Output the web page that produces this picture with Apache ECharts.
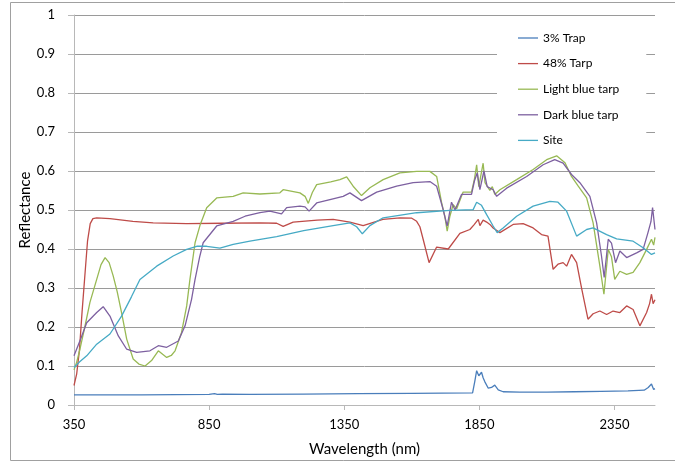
<!DOCTYPE html>
<html>
<head>
<meta charset="utf-8">
<script src="https://cdn.jsdelivr.net/npm/echarts@6/dist/echarts.min.js"></script>
<style>
  html, body { margin: 0; padding: 0; background: #fff; }
  #chart { width: 675px; height: 462px; }
</style>
</head>
<body>
<div id="chart"></div>
<script>
// series names and tick labels
const seriesNames = ["3% Trap", "48% Tarp", "Light blue tarp", "Dark blue tarp", "Site"];
const xTicks = [350, 850, 1350, 1850, 2350];

// [wavelength nm, reflectance]
const trap3 = [
  [350, 0.026], [600, 0.026], [850, 0.027], [870, 0.029], [880, 0.027], [900, 0.028],
  [1000, 0.027], [1200, 0.028], [1400, 0.029], [1600, 0.03], [1825, 0.031], [1833, 0.06],
  [1840, 0.088], [1848, 0.075], [1858, 0.084], [1864, 0.07], [1870, 0.06], [1883, 0.043],
  [1895, 0.045], [1907, 0.051], [1920, 0.039], [1938, 0.034], [2000, 0.033], [2100, 0.033],
  [2200, 0.034], [2300, 0.035], [2400, 0.036], [2460, 0.038], [2475, 0.045], [2487, 0.054],
  [2495, 0.04], [2500, 0.042]
];
const tarp48 = [
  [350, 0.05], [360, 0.08], [370, 0.14], [380, 0.24], [390, 0.33], [400, 0.42], [410, 0.465],
  [420, 0.478], [434, 0.48], [483, 0.478], [568, 0.471], [643, 0.467], [767, 0.465], [900, 0.466],
  [1038, 0.467], [1100, 0.466], [1124, 0.458], [1161, 0.469], [1250, 0.474], [1309, 0.476],
  [1371, 0.469], [1420, 0.46], [1493, 0.476], [1556, 0.48], [1600, 0.479], [1618, 0.471],
  [1630, 0.457], [1642, 0.425], [1664, 0.365], [1692, 0.405], [1735, 0.40], [1778, 0.44],
  [1815, 0.45], [1830, 0.462], [1846, 0.476], [1852, 0.46], [1858, 0.467], [1864, 0.474],
  [1877, 0.469], [1889, 0.463], [1901, 0.454], [1926, 0.442], [1975, 0.463], [2012, 0.465],
  [2049, 0.454], [2080, 0.437], [2104, 0.433], [2123, 0.348], [2141, 0.361], [2160, 0.365],
  [2173, 0.356], [2191, 0.386], [2210, 0.365], [2229, 0.297], [2252, 0.22], [2271, 0.234],
  [2296, 0.241], [2321, 0.232], [2345, 0.241], [2370, 0.237], [2395, 0.254], [2419, 0.245],
  [2444, 0.203], [2469, 0.237], [2480, 0.26], [2487, 0.284], [2493, 0.26], [2500, 0.27]
];
const lightBlue = [
  [350, 0.09], [360, 0.11], [372, 0.143], [390, 0.2], [409, 0.263], [434, 0.322], [450, 0.36],
  [465, 0.378], [480, 0.365], [495, 0.331], [510, 0.29], [526, 0.237], [545, 0.169], [569, 0.118],
  [590, 0.105], [613, 0.10], [637, 0.114], [662, 0.139], [678, 0.13], [693, 0.122], [710, 0.127],
  [724, 0.139], [748, 0.186], [767, 0.254], [779, 0.322], [798, 0.416], [816, 0.46], [841, 0.506],
  [878, 0.531], [939, 0.535], [976, 0.544], [1038, 0.541], [1112, 0.544], [1124, 0.552],
  [1186, 0.544], [1205, 0.535], [1217, 0.517], [1232, 0.545], [1248, 0.565], [1300, 0.572],
  [1334, 0.578], [1359, 0.585], [1383, 0.561], [1414, 0.537], [1445, 0.557], [1494, 0.578],
  [1556, 0.595], [1618, 0.599], [1667, 0.599], [1692, 0.586], [1710, 0.52], [1722, 0.484],
  [1731, 0.446], [1741, 0.484], [1753, 0.514], [1766, 0.503], [1790, 0.546], [1821, 0.546],
  [1832, 0.58], [1840, 0.616], [1848, 0.56], [1856, 0.59], [1864, 0.62], [1871, 0.57],
  [1877, 0.565], [1889, 0.55], [1898, 0.56], [1907, 0.54], [1926, 0.552], [1988, 0.578],
  [2049, 0.604], [2099, 0.629], [2136, 0.639], [2167, 0.621], [2191, 0.586], [2216, 0.561],
  [2247, 0.531], [2271, 0.467], [2296, 0.356], [2311, 0.284], [2327, 0.399], [2339, 0.38],
  [2351, 0.322], [2370, 0.343], [2395, 0.335], [2419, 0.34], [2444, 0.365], [2469, 0.399],
  [2487, 0.425], [2495, 0.41], [2500, 0.43]
];
const darkBlue = [
  [350, 0.126], [375, 0.17], [397, 0.211], [434, 0.237], [458, 0.252], [483, 0.228], [514, 0.177],
  [545, 0.143], [582, 0.135], [631, 0.139], [662, 0.152], [693, 0.148], [736, 0.164], [761, 0.203],
  [785, 0.271], [798, 0.322], [815, 0.38], [828, 0.416], [878, 0.459], [939, 0.471], [983, 0.484],
  [1038, 0.493], [1075, 0.497], [1118, 0.49], [1137, 0.506], [1186, 0.51], [1205, 0.508],
  [1220, 0.497], [1248, 0.518], [1346, 0.535], [1371, 0.544], [1414, 0.524], [1470, 0.546],
  [1544, 0.561], [1605, 0.57], [1667, 0.573], [1692, 0.561], [1716, 0.501], [1731, 0.459],
  [1747, 0.52], [1760, 0.5], [1784, 0.54], [1821, 0.54], [1832, 0.575], [1842, 0.595],
  [1852, 0.552], [1867, 0.6], [1879, 0.56], [1901, 0.552], [1914, 0.535], [1951, 0.556],
  [2025, 0.586], [2086, 0.616], [2129, 0.629], [2160, 0.62], [2191, 0.591], [2222, 0.57],
  [2259, 0.535], [2284, 0.467], [2302, 0.382], [2312, 0.327], [2327, 0.425], [2339, 0.415],
  [2354, 0.365], [2370, 0.395], [2395, 0.378], [2432, 0.39], [2456, 0.399], [2474, 0.442],
  [2485, 0.47], [2491, 0.506], [2500, 0.45]
];
const site = [
  [350, 0.096], [370, 0.11], [397, 0.126], [434, 0.156], [483, 0.182], [526, 0.228], [563, 0.278],
  [594, 0.322], [656, 0.356], [717, 0.382], [767, 0.399], [804, 0.407], [841, 0.407], [890, 0.402],
  [939, 0.412], [1001, 0.42], [1100, 0.432], [1200, 0.447], [1309, 0.46], [1371, 0.467],
  [1396, 0.457], [1417, 0.439], [1445, 0.46], [1494, 0.48], [1618, 0.493], [1741, 0.499],
  [1827, 0.501], [1840, 0.52], [1858, 0.512], [1877, 0.488], [1901, 0.459], [1916, 0.442],
  [1938, 0.454], [1988, 0.484], [2049, 0.51], [2111, 0.522], [2141, 0.52], [2173, 0.497],
  [2210, 0.433], [2247, 0.45], [2271, 0.454], [2321, 0.437], [2358, 0.426], [2419, 0.42],
  [2456, 0.403], [2487, 0.386], [2500, 0.39]
];

const allData = [trap3, tarp48, lightBlue, darkBlue, site];
const colors = ["#4A7EBB", "#BE4B48", "#98B954", "#7D60A0", "#46AAC5"];
const font = "Lato, 'Open Sans', sans-serif";

const chart = echarts.init(document.getElementById("chart"), null, { renderer: "canvas" });

const option = {
  backgroundColor: "#fff",
  animation: false,
  color: colors,
  textStyle: { fontFamily: font },
  graphic: [
    {
      type: "rect",
      shape: { x: 10.5, y: 2.5, width: 700, height: 458 },
      style: { fill: "none", stroke: "#a0a0a0", lineWidth: 1 },
      silent: true
    }
  ],
  grid: { left: 74, top: 15, right: 20, bottom: 56 },
  legend: {
    orient: "vertical",
    left: 497,
    top: 22,
    padding: [9, 27, 9, 21],
    backgroundColor: "#fff",
    icon: "rect",
    itemWidth: 20,
    itemHeight: 1.3,
    itemGap: 11.6,
    data: seriesNames,
    textStyle: { fontFamily: font, fontSize: 12, color: "#000", lineHeight: 14 }
  },
  xAxis: {
    type: "value",
    min: 350,
    max: 2500,
    name: "Wavelength (nm)",
    nameLocation: "middle",
    nameGap: 37,
    nameMoveOverlap: false,
    nameTextStyle: { fontFamily: font, fontSize: 15, color: "#000" },
    axisLine: { lineStyle: { color: "#b8b8b8", width: 1 } },
    axisTick: { show: true, length: 5, customValues: xTicks, lineStyle: { color: "#b8b8b8" } },
    axisLabel: {
      customValues: xTicks,
      margin: 13,
      fontFamily: font,
      fontSize: 13,
      color: "#000",
      formatter: v => String(v)
    },
    splitLine: { show: false }
  },
  yAxis: {
    type: "value",
    min: 0,
    max: 1,
    interval: 0.1,
    name: "Reflectance",
    nameLocation: "middle",
    nameGap: 41,
    nameMoveOverlap: false,
    nameTextStyle: { fontFamily: font, fontSize: 15, color: "#000" },
    axisLine: { show: true, lineStyle: { color: "#b8b8b8", width: 1 } },
    axisTick: { show: true, length: 6, lineStyle: { color: "#b8b8b8" } },
    axisLabel: {
      margin: 19,
      fontFamily: font,
      fontSize: 13,
      color: "#000",
      formatter: v => String(Math.round(v * 10) / 10)
    },
    splitLine: { show: true, lineStyle: { color: "#9a9a9a", width: 1 } }
  },
  series: seriesNames.map((name, i) => ({
    name: name,
    type: "line",
    data: allData[i],
    showSymbol: false,
    symbol: "none",
    smooth: false,
    lineStyle: { width: 1.3, color: colors[i] },
    z: 2 + i
  }))
};

chart.setOption(option);
</script>
</body>
</html>
